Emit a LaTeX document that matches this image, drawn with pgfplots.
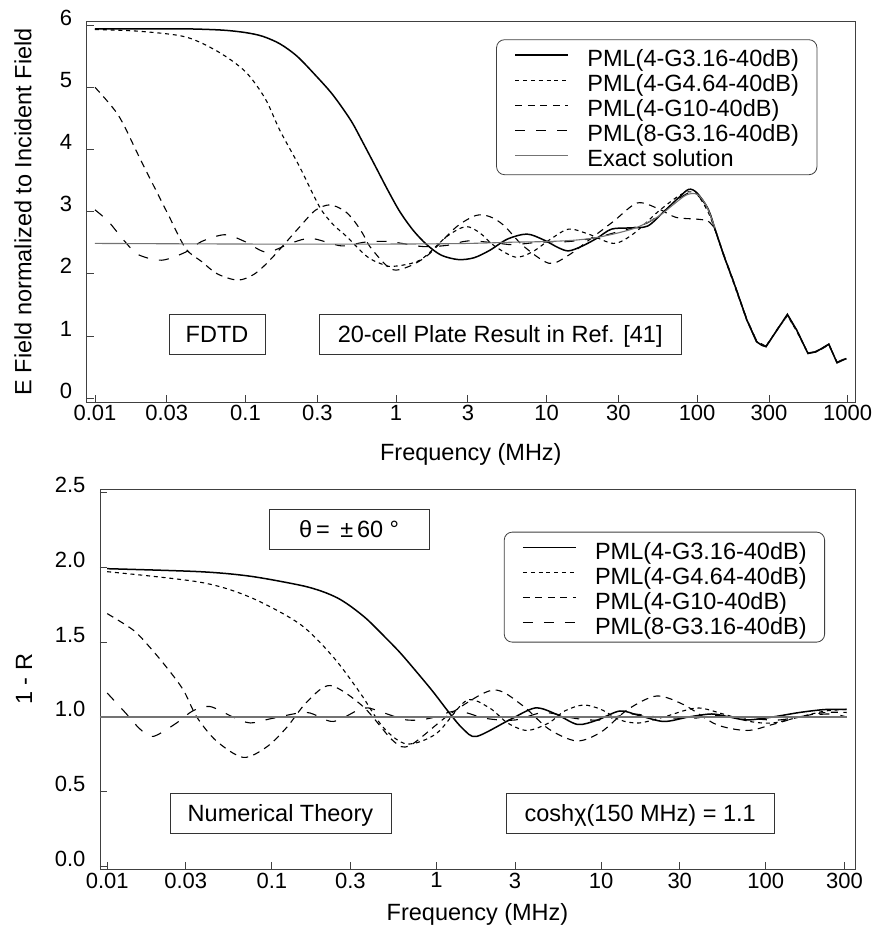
\documentclass[border=0pt]{standalone}
\usepackage{fontspec}
\setmainfont{Liberation Sans}
\usepackage{pgfplots}
\pgfplotsset{compat=1.18}

\pgfplotsset{
  legend image code/.code={\draw[#1] (0pt,2pt) -- (53pt,2pt);},
}
\tikzset{
  l1/.style={black, line width=1.5pt},
  l2/.style={black, line width=1.1pt, dash pattern=on 4pt off 3.8pt},
  l3/.style={black, line width=1.1pt, dash pattern=on 7pt off 5.5pt},
  l4/.style={black, line width=1.1pt, dash pattern=on 10pt off 11pt},
  lx/.style={black!55, line width=1.1pt},
  sm/.style={smooth, tension=0.5},
  boxlbl/.style={draw=black!80, line width=0.8pt, inner sep=0pt,
    minimum height=40pt, text height=16.8pt, text depth=0pt,
    font=\fontsize{23.5}{25}\selectfont},
}

\begin{document}
\begin{tikzpicture}
\path[use as bounding box] (0pt,0pt) rectangle (876pt,-926pt);

% ---- upper panel: FDTD ----
\begin{axis}[
  xmode=log, scale only axis,
  width=768.3pt, height=380.3pt,
  at={(86.7pt,-402pt)}, anchor=south west,
  xmin=0.00881, xmax=1119, ymin=-0.06, ymax=6.055,
  xtick={0.01,0.03,0.1,0.3,1,3,10,30,100,300,1000},
  xticklabels={0.01,0.03,0.1,0.3,1,3,10,30,100,300,1000},
  minor xtick={},
  ytick={0,1,2,3,4,5,6}, yticklabels={0,1,2,3,4,5,6},
  xtick pos=left, ytick pos=left,
  tick align=inside, major tick length=7pt,
  tick style={black!75, line width=0.8pt},
  axis line style={black!75, line width=0.9pt},
  tick label style={font=\fontsize{22}{24}\selectfont},
  yticklabel style={anchor=base east, xshift=-11pt},
  label style={font=\fontsize{23.5}{26}\selectfont},
  xlabel={Frequency (MHz)},
  ylabel={E Field normalized to Incident Field},
  xlabel style={at={(axis description cs:0.5,-0.1525)}, anchor=base},
  ylabel style={at={(axis description cs:-0.0829,0.5)}, anchor=center},
  legend cell align=left,
  legend style={at={(axis description cs:0.951,0.9537)}, anchor=north east,
    draw=black!75, line width=0.8pt, rounded corners=8pt,
    inner xsep=18pt, inner ysep=5pt,
    font=\fontsize{23.5}{25}\selectfont, column sep=18.3pt,
    nodes={inner sep=0pt, text height=22pt, text depth=3pt}},
]
\addplot[l1, sm] coordinates {
 (0.01,5.94) (0.02,5.94) (0.04,5.94) (0.07,5.92) (0.1,5.88) (0.13,5.82)
 (0.169,5.70) (0.22,5.50) (0.29,5.20) (0.38,4.88) (0.5,4.47) (0.6,4.12)
 (0.74,3.70) (0.88,3.35) (1.06,3.00) (1.3,2.70) (1.6,2.47) (2.0,2.30)
 (2.6,2.23) (3.3,2.26) (4.2,2.38) (5.5,2.56) (7.4,2.64) (9.5,2.55)
 (12,2.42) (14,2.37) (17,2.44) (21.5,2.57) (27,2.72) (36,2.74) (47,2.77)
 (60,3.0) (75,3.22) (88,3.36) (100,3.30) (118,3.05) (131,2.73)
};
\addlegendentry{PML(4-G3.16-40dB)}
\addplot[l2, sm] coordinates {
 (0.01,5.93) (0.02,5.90) (0.04,5.81) (0.066,5.57) (0.1,5.25) (0.135,4.82)
 (0.169,4.31) (0.229,3.72) (0.31,3.08) (0.38,2.80) (0.47,2.60) (0.64,2.28)
 (0.8,2.16) (0.95,2.12) (1.44,2.22) (2.17,2.60) (2.9,2.76) (3.6,2.66)
 (4.5,2.45) (6.2,2.27) (8,2.35) (10.5,2.55) (14,2.72) (19,2.64) (28,2.49)
 (38,2.65) (55,3.0) (75,3.25) (88,3.32) (100,3.28) (118,3.0) (131,2.72)
};
\addlegendentry{PML(4-G4.64-40dB)}
\addplot[l3, sm] coordinates {
 (0.01,5.00) (0.0143,4.55) (0.0194,3.91) (0.0238,3.48) (0.0307,2.95)
 (0.040,2.41) (0.051,2.20) (0.065,2.00) (0.089,1.90) (0.115,2.0)
 (0.149,2.25) (0.224,2.73) (0.29,3.02) (0.363,3.11) (0.45,3.02)
 (0.52,2.87) (0.6,2.65) (0.67,2.44) (0.85,2.15) (1.0,2.06) (1.3,2.15)
 (1.68,2.33) (2.5,2.75) (3.4,2.94) (4.2,2.92) (5.2,2.78) (7,2.45)
 (10.4,2.17) (14,2.30) (20,2.58)
 (28,2.85) (40,3.14) (55,3.05) (72,2.91) (100,2.88) (118,2.85) (131,2.73)
};
\addlegendentry{PML(4-G10-40dB)}
\addplot[l4, sm] coordinates {
 (0.01,3.03) (0.0123,2.84) (0.0158,2.52) (0.0194,2.31) (0.0277,2.22)
 (0.040,2.35) (0.051,2.52) (0.073,2.63) (0.099,2.52) (0.138,2.35)
 (0.203,2.50) (0.275,2.57) (0.435,2.45) (0.62,2.51) (0.9,2.52) (1.5,2.44)
 (2.2,2.46) (3,2.53) (4.5,2.50) (6,2.47) (9,2.51) (14,2.52) (21,2.58)
 (30,2.68) (45,2.8) (60,3.0) (75,3.2) (88,3.3) (100,3.27) (118,3.05)
 (131,2.73)
};
\addlegendentry{PML(8-G3.16-40dB)}
\addplot[lx, sm] coordinates {
 (0.01,2.49) (0.1,2.48) (1,2.48) (3,2.49) (6,2.51) (10,2.52) (15,2.54)
 (21,2.58) (30,2.66) (40,2.75) (55,2.92) (70,3.12) (85,3.27) (100,3.28)
 (115,3.1) (131,2.75)
};
\addlegendentry{Exact solution}
% high-frequency part, where all curves are broken lines
\addplot[l2, forget plot] coordinates {
 (131,2.72) (150,2.3) (176,1.83) (214,1.25) (248,0.92) (270,0.86) (287,0.84)
 (340,1.10) (398,1.33) (458,1.08) (545,0.72) (620,0.76) (750,0.86)
 (850,0.58) (980,0.64)};
\addplot[l3, forget plot] coordinates {
 (131,2.73) (150,2.32) (176,1.86) (214,1.27) (248,0.93) (270,0.87) (287,0.83)
 (340,1.11) (398,1.33) (458,1.09) (545,0.73) (620,0.74) (750,0.86)
 (850,0.58) (980,0.63)};
\addplot[l4, forget plot] coordinates {
 (131,2.73) (150,2.31) (176,1.85) (214,1.26) (248,0.92) (270,0.86) (287,0.84)
 (340,1.10) (398,1.34) (458,1.10) (545,0.73) (620,0.75) (750,0.87)
 (850,0.58) (980,0.65)};
\addplot[lx, forget plot] coordinates {
 (131,2.75) (150,2.31) (176,1.85) (214,1.26) (248,0.91) (270,0.85) (287,0.83)
 (340,1.10) (398,1.34) (458,1.10) (545,0.72) (620,0.75) (750,0.87)
 (850,0.57) (980,0.64)};
\addplot[l1, forget plot] coordinates {
 (131,2.73) (150,2.3) (176,1.85) (214,1.26) (248,0.91) (270,0.85) (287,0.83)
 (340,1.10) (398,1.35) (458,1.10) (545,0.72) (620,0.75) (750,0.87)
 (850,0.57) (980,0.64)};
\node[boxlbl, minimum width=96pt] at (rel axis cs:0.1696,0.178) {FDTD};
\node[boxlbl, minimum width=361.7pt] at (rel axis cs:0.5382,0.178)
  {20-cell Plate Result in Ref. [41]};
\end{axis}

% ---- lower panel: numerical theory ----
\begin{axis}[
  xmode=log, scale only axis,
  width=755pt, height=380.3pt,
  at={(100pt,-869.3pt)}, anchor=south west,
  xmin=0.00904, xmax=348, ymin=-0.017, ymax=2.522,
  xtick={0.01,0.03,0.1,0.3,1,3,10,30,100,300},
  xticklabels={0.01,0.03,0.1,0.3,1,3,10,30,100,300},
  minor xtick={},
  ytick={0,0.5,1,1.5,2,2.5}, yticklabels={0.0,0.5,1.0,1.5,2.0,2.5},
  xtick pos=left, ytick pos=left,
  tick align=inside, major tick length=7pt,
  tick style={black!75, line width=0.8pt},
  axis line style={black!75, line width=0.9pt},
  tick label style={font=\fontsize{22}{24}\selectfont},
  yticklabel style={anchor=base east, xshift=-11pt},
  label style={font=\fontsize{23.5}{26}\selectfont},
  xlabel={Frequency (MHz)},
  ylabel={1 - R},
  xlabel style={at={(axis description cs:0.5,-0.1333)}, anchor=base},
  ylabel style={at={(axis description cs:-0.1007,0.5)}, anchor=center},
  legend cell align=left,
  legend style={at={(axis description cs:0.9603,0.8877)}, anchor=north east,
    draw=black!75, line width=0.8pt, rounded corners=8pt,
    inner xsep=18pt, inner ysep=5pt,
    font=\fontsize{23.5}{25}\selectfont, column sep=18.3pt,
    nodes={inner sep=0pt, text height=22pt, text depth=3pt}},
]
\addplot[l1, sm] coordinates {
 (0.01,1.99) (0.0366,1.97) (0.0736,1.94) (0.148,1.88) (0.2,1.84)
 (0.25,1.795) (0.3,1.74) (0.376,1.655) (0.475,1.545) (0.6,1.43)
 (0.758,1.30) (0.95,1.17) (1.21,1.02) (1.45,0.92) (1.75,0.87)
 (2.77,0.98) (3.97,1.06) (5.3,1.02) (7.2,0.95) (9.5,0.98)
 (13,1.04) (17,1.01) (24,0.97) (34,1.0) (47,1.02) (60,1.0) (77,0.98)
 (110,1.0) (160,1.03) (230,1.05) (310,1.05)
};
\addlegendentry{PML(4-G3.16-40dB)}
\addplot[l2, sm] coordinates {
 (0.01,1.97) (0.0366,1.90) (0.0736,1.80) (0.148,1.62) (0.236,1.40)
 (0.344,1.16) (0.475,0.93) (0.66,0.82) (1.0,0.89) (1.52,1.11) (2.1,1.06)
 (2.7,0.96) (3.55,0.91) (4.8,0.96) (6,1.04) (7.8,1.08) (10,1.05)
 (13,0.98) (17,0.96) (24,1.0) (38,1.06) (55,1.02) (80,0.97) (110,0.96)
 (160,1.0) (230,1.04) (310,1.05)
};
\addlegendentry{PML(4-G4.64-40dB)}
\addplot[l3, sm] coordinates {
 (0.01,1.69) (0.0144,1.58) (0.018,1.47) (0.023,1.33) (0.029,1.18)
 (0.035,1.0) (0.046,0.84) (0.067,0.73) (0.093,0.80) (0.123,0.93)
 (0.163,1.10) (0.226,1.21) (0.358,1.07) (0.546,0.84) (0.69,0.81)
 (1.21,1.02) (2.2,1.18) (3.3,1.08) (4.8,0.92)
 (7.1,0.84) (10,0.90) (14.5,1.05) (21.7,1.14) (32,1.08) (50,0.95)
 (77,0.91) (110,0.95) (160,1.0) (230,1.03) (310,1.03)
};
\addlegendentry{PML(4-G10-40dB)}
\addplot[l4, sm] coordinates {
 (0.01,1.16) (0.0131,1.02) (0.0158,0.92) (0.019,0.87) (0.0264,0.96)
 (0.033,1.04) (0.042,1.07) (0.058,1.0) (0.074,0.96) (0.1,0.99)
 (0.163,1.03) (0.236,0.97) (0.36,1.06) (0.47,1.03) (0.66,0.98)
 (0.9,0.99) (1.33,1.04) (2,0.99) (3,0.98) (4.5,1.03) (7,0.99) (10,0.98)
 (15,1.02) (22,1.0) (35,0.99) (50,1.01) (80,0.99) (120,0.98) (180,1.01)
 (250,1.02) (310,1.0)
};
\addlegendentry{PML(8-G3.16-40dB)}
\addplot[lx, forget plot] coordinates {(0.00904,1.0) (310,1.0)};
\node[boxlbl, minimum width=160.3pt] at (rel axis cs:0.330,0.894)
  {θ\,=\, ±\,60 °};
\node[boxlbl, minimum width=221pt] at (rel axis cs:0.239,0.1473)
  {Numerical Theory};
\node[boxlbl, minimum width=268.3pt] at (rel axis cs:0.7155,0.1473)
  {coshχ(150 MHz) = 1.1};
\end{axis}
\end{tikzpicture}
\end{document}
